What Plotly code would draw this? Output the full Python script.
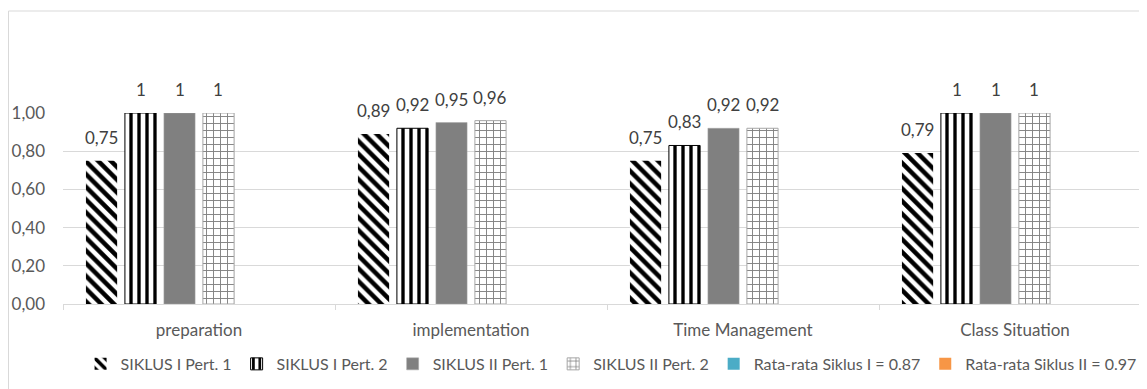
import plotly.graph_objects as go

categories = ["preparation", "implementation", "Time Management", "Class Situation"]
siklus1_pert1 = [0.75, 0.89, 0.75, 0.79]
siklus1_pert2 = [1.0, 0.92, 0.83, 1.0]
siklus2_pert1 = [1.0, 0.95, 0.92, 1.0]
siklus2_pert2 = [1.0, 0.96, 0.92, 1.0]
rata_siklus1 = [None, None, None, None]
rata_siklus2 = [None, None, None, None]
series_names = ["SIKLUS I Pert. 1", "SIKLUS I Pert. 2", "SIKLUS II Pert. 1", "SIKLUS II Pert. 2",
                "Rata-rata Siklus I = 0.87", "Rata-rata Siklus II = 0.97"]
y_ticks = [0, 0.2, 0.4, 0.6, 0.8, 1.0]

FONT = "Lato, Liberation Sans, sans-serif"
FS = 17
TXT = "#595959"

# the page body keeps its default 8px margin, so the figure is sized to fill the window after it
W, H = 1139, 381
ML, MR, MT, MB = 55, 0, 105, 85
BARGAP, GROUPGAP = 0.14, 0.2
XR = [-0.5, 3.4853]

styles = [
    dict(color="white", pattern=dict(shape="\\", fgcolor="black", bgcolor="white", fgopacity=1,
                                     size=9, solidity=0.5, fillmode="overlay"), line=dict(width=0)),
    dict(color="white", pattern=dict(shape="|", fgcolor="black", bgcolor="white", fgopacity=1,
                                     size=8, solidity=0.42, fillmode="overlay"), line=dict(width=1, color="black")),
    dict(color="#808080", line=dict(width=0.5, color="#a6a6a6")),
    dict(color="white", pattern=dict(shape="+", fgcolor="#808080", bgcolor="white", fgopacity=1,
                                     size=7, solidity=0.25, fillmode="overlay"), line=dict(width=1, color="#a6a6a6")),
    dict(color="#4bacc6", line=dict(width=0)),
    dict(color="#f79646", line=dict(width=0)),
]
all_series = [siklus1_pert1, siklus1_pert2, siklus2_pert1, siklus2_pert2, rata_siklus1, rata_siklus2]

fig = go.Figure()
for name, vals, st in zip(series_names, all_series, styles):
    fig.add_trace(go.Bar(x=categories, y=vals, name=name, marker=st, hoverinfo="skip"))

def excel_general(v):
    return f"{v:g}".replace(".", ",")

# data labels above bars, placed through the category axis + group offsets
plot_w = W - ML - MR
plot_h = H - MT - MB
unit_px = plot_w / (XR[1] - XR[0])
slot_px = unit_px * (1 - BARGAP) / len(all_series)
annotations = []
for i, vals in enumerate(all_series):
    for c, v in zip(categories, vals):
        if v is None:
            continue
        annotations.append(dict(x=c, y=v, xref="x", yref="y", text=excel_general(v), showarrow=False,
                                xanchor="center", yanchor="bottom", yshift=11,
                                xshift=(i - (len(all_series) - 1) / 2) * slot_px,
                                font=dict(family=FONT, size=FS, color="#404040")))

fig.update_layout(
    width=W, height=H,
    margin=dict(l=ML, r=MR, t=MT, b=MB, pad=0),
    barmode="group", bargap=BARGAP, bargroupgap=GROUPGAP,
    paper_bgcolor="white", plot_bgcolor="white",
    separators=",.",
    font=dict(family=FONT, size=FS, color=TXT),
    showlegend=True,
    legend=dict(orientation="h", x=0.995, xanchor="right", y=-0.314, yanchor="middle",
                font=dict(family=FONT, size=16, color=TXT), traceorder="normal",
                bgcolor="rgba(0,0,0,0)", itemclick=False),
    annotations=annotations,
    shapes=[dict(type="rect", xref="paper", yref="paper", x0=(-ML + 0.5) / plot_w, x1=1.2,
                 y0=-2, y1=1 + (MT - 3) / plot_h,
                 line=dict(color="#d9d9d9", width=1), fillcolor="rgba(0,0,0,0)", layer="below")],
)
fig.update_xaxes(type="category", range=XR, showgrid=False, showline=True, linecolor="#d9d9d9",
                 linewidth=1, ticks="outside", tickson="boundaries", ticklen=5, tickcolor="#d9d9d9",
                 tickfont=dict(family=FONT, size=FS, color=TXT), ticklabelstandoff=11)
fig.update_yaxes(range=[0, 1.0], tickvals=y_ticks, tickformat=".2f", showgrid=True, gridcolor="#d9d9d9",
                 gridwidth=1, zeroline=False, showline=False, ticks="",
                 tickfont=dict(family=FONT, size=FS, color=TXT), ticklabelstandoff=17)

fig.write_html("out.html")
